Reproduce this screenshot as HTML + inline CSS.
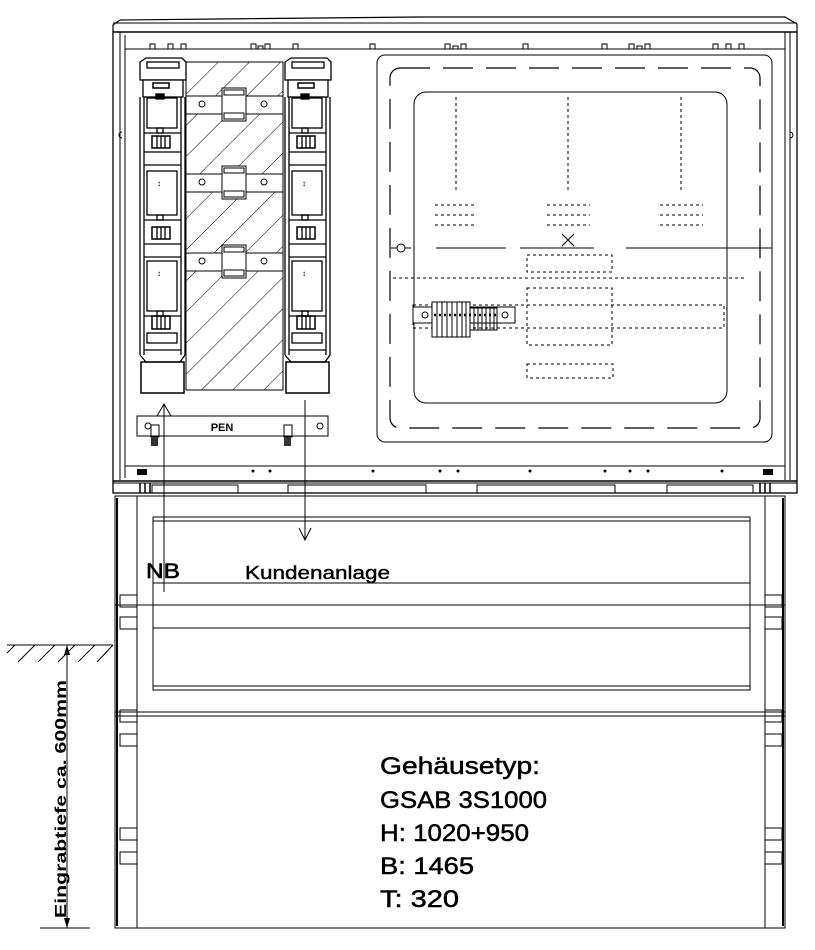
<!DOCTYPE html>
<html><head><meta charset="utf-8"><style>
html,body{margin:0;padding:0;background:#fff;}
svg{display:block;}
text{font-family:"Liberation Sans",Arial,sans-serif;fill:#000;}
</style></head><body>
<svg width="815" height="950" viewBox="0 0 815 950" xmlns="http://www.w3.org/2000/svg">
<defs>
<pattern id="hatch" width="22" height="22" patternUnits="userSpaceOnUse" patternTransform="rotate(45)">
<line x1="0" y1="0" x2="0" y2="22" stroke="#000" stroke-width="1"/>
</pattern>
<g id="fuse" fill="none" stroke="#000" stroke-width="1.3">
<path d="M140 62 L146 58 L182 58 L186 62 L186 80 L140 80 Z" fill="#fff"/>
<rect x="147" y="62" width="32" height="6"/>
<rect x="143" y="80" width="40" height="17" fill="#fff"/>
<rect x="153" y="83" width="16" height="5" stroke-width="1.5"/>
<line x1="140" y1="97" x2="140" y2="355"/><line x1="144" y1="97" x2="144" y2="355"/>
<line x1="181" y1="97" x2="181" y2="355"/><line x1="185" y1="97" x2="185" y2="355"/>
<rect x="147" y="98" width="30" height="30"/>
<rect x="156" y="94" width="8" height="5" fill="#000"/>
<rect x="157" y="128" width="6" height="5"/>
<line x1="144" y1="133" x2="181" y2="133"/>
<rect x="152" y="136" width="18" height="12" stroke-width="1.5"/>
<line x1="157" y1="136" x2="157" y2="148"/><line x1="161" y1="136" x2="161" y2="148"/><line x1="165" y1="136" x2="165" y2="148"/>
<line x1="144" y1="152" x2="181" y2="152"/>
<line x1="144" y1="165" x2="181" y2="165"/>
<rect x="147" y="171" width="30" height="44"/>
<text x="159" y="186" font-size="8" text-anchor="middle" stroke="none">↕</text>
<rect x="157" y="215" width="6" height="5"/>
<line x1="144" y1="220" x2="181" y2="220"/>
<rect x="152" y="227" width="18" height="12" stroke-width="1.5"/>
<line x1="157" y1="227" x2="157" y2="239"/><line x1="161" y1="227" x2="161" y2="239"/><line x1="165" y1="227" x2="165" y2="239"/>
<line x1="144" y1="244" x2="181" y2="244"/>
<line x1="144" y1="257" x2="181" y2="257"/>
<rect x="147" y="261" width="30" height="50"/>
<text x="159" y="276" font-size="8" text-anchor="middle" stroke="none">↕</text>
<rect x="157" y="311" width="6" height="5"/>
<line x1="144" y1="316" x2="181" y2="316"/>
<rect x="152" y="316" width="18" height="13" stroke-width="1.5"/>
<line x1="157" y1="316" x2="157" y2="329"/><line x1="161" y1="316" x2="161" y2="329"/><line x1="165" y1="316" x2="165" y2="329"/>
<rect x="147" y="333" width="30" height="10"/>
<line x1="144" y1="350" x2="181" y2="350"/>
<path d="M140 355 L146 362 L180 362 L185 355"/>
<rect x="141" y="362" width="43" height="31" stroke-width="1.5"/>
</g>
</defs>

<g fill="none" stroke="#000" stroke-width="1">
<path d="M113 25 L120 20 L420 17 L785 17 L797 24 L797 32 L113 32 Z" stroke-width="1.2"/>
<line x1="113" y1="23" x2="797" y2="23"/>
<rect x="113" y="32" width="684" height="461" stroke-width="1.3"/>
<line x1="120" y1="32" x2="120" y2="480"/><line x1="125" y1="35" x2="125" y2="478"/>
<line x1="785" y1="32" x2="785" y2="480"/><line x1="790" y1="32" x2="790" y2="480"/>
<line x1="125" y1="49" x2="785" y2="49"/>
<path d="M150 49 v-5 h5 v5 M168 49 v-5 h5 v5 M181 49 v-5 h5 v5 M251 49 v-5 h5 v5 M258 49 v-3 h5 v3 M265 49 v-5 h5 v5 M293 49 v-5 h5 v5 M370 49 v-5 h5 v5 M445 49 v-5 h5 v5 M453 49 v-3 h5 v3 M461 49 v-5 h5 v5 M523 49 v-5 h5 v5 M602 49 v-5 h5 v5 M629 49 v-5 h5 v5 M637 49 v-3 h5 v3 M645 49 v-5 h5 v5 M713 49 v-5 h5 v5 M726 49 v-5 h5 v5 M739 49 v-5 h5 v5"/>
<path d="M122 132 a3 3 0 0 0 0 6"/><path d="M790 132 a3 3 0 0 1 0 6"/>
<line x1="125" y1="466" x2="785" y2="466"/>
<line x1="113" y1="481" x2="797" y2="481" stroke-width="1.5"/>
<line x1="113" y1="483" x2="797" y2="483"/>
<line x1="130" y1="493" x2="780" y2="493"/>
<path d="M140 483 v10 M145 483 v10 M150 483 v10 M760 483 v10 M765 483 v10 M770 483 v10" stroke-width="1.5"/>
<path d="M152 493 v-8 h86 v8 M288 493 v-8 h138 v8 M477 493 v-8 h138 v8 M667 493 v-8 h86 v8"/>
</g>
<g fill="#000">
<rect x="137" y="469" width="10" height="6"/><rect x="763" y="469" width="10" height="6"/>
<circle cx="253" cy="471" r="1.5"/><circle cx="270" cy="471" r="1.5"/><circle cx="373" cy="471" r="1.5"/>
<circle cx="440" cy="471" r="1.5"/><circle cx="458" cy="471" r="1.5"/><circle cx="530" cy="471" r="1.5"/>
<circle cx="605" cy="471" r="1.5"/><circle cx="630" cy="471" r="1.5"/><circle cx="648" cy="471" r="1.5"/><circle cx="722" cy="471" r="1.5"/>
</g>

<rect x="186" y="62" width="97" height="328" fill="url(#hatch)" stroke="#000" stroke-width="1"/>
<g fill="#fff" stroke="#000" stroke-width="1">
<rect x="186" y="96" width="97" height="18"/>
<rect x="186" y="174" width="97" height="18"/>
<rect x="186" y="253" width="97" height="18"/>
<circle cx="202" cy="104" r="3"/><circle cx="264" cy="104" r="3"/>
<circle cx="202" cy="182" r="3"/><circle cx="264" cy="182" r="3"/>
<circle cx="202" cy="261" r="3"/><circle cx="264" cy="261" r="3"/>
<rect x="222" y="88" width="24" height="33"/><rect x="222" y="166" width="24" height="33"/><rect x="222" y="245" width="24" height="33"/>
<rect x="224" y="90" width="20" height="5"/><rect x="224" y="168" width="20" height="5"/><rect x="224" y="247" width="20" height="5"/>
<rect x="224" y="113" width="20" height="6"/><rect x="224" y="191" width="20" height="6"/><rect x="224" y="270" width="20" height="6"/>
</g>
<use href="#fuse"/>
<use href="#fuse" transform="translate(145,0)"/>

<g fill="none" stroke="#000" stroke-width="1">
<rect x="137" y="416" width="191" height="20"/>
<circle cx="148" cy="426" r="3"/><circle cx="320" cy="426" r="3"/>
<rect x="151" y="425" width="8" height="12"/><rect x="284" y="425" width="8" height="12"/>
</g>
<rect x="151" y="437" width="7" height="9" fill="#333"/><rect x="284" y="437" width="7" height="9" fill="#333"/>
<text x="222" y="431" font-size="11" font-weight="bold" text-anchor="middle">PEN</text>

<g stroke="#000" stroke-width="1" fill="none">
<line x1="164" y1="404" x2="164" y2="592"/>
<path d="M157 416 L164 404 L171 416"/>
<line x1="305" y1="400" x2="305" y2="540"/>
<path d="M299 528 L305 540 L311 528"/>
</g>

<g fill="none" stroke="#000" stroke-width="1">
<rect x="377" y="55" width="395" height="387" rx="8"/>
<rect x="390" y="68" width="370" height="360" rx="10" stroke-dasharray="30,13" stroke-width="1.2"/>
<rect x="414" y="92" width="313" height="311" rx="12"/>
<g stroke-dasharray="3,3">
<line x1="456" y1="97" x2="456" y2="192"/><line x1="568" y1="97" x2="568" y2="192"/><line x1="681" y1="97" x2="681" y2="192"/>
<line x1="435" y1="205" x2="477" y2="205"/><line x1="435" y1="215" x2="477" y2="215"/><line x1="435" y1="225" x2="477" y2="225"/>
<line x1="547" y1="205" x2="590" y2="205"/><line x1="547" y1="215" x2="590" y2="215"/><line x1="547" y1="225" x2="590" y2="225"/>
<line x1="660" y1="205" x2="703" y2="205"/><line x1="660" y1="215" x2="703" y2="215"/><line x1="660" y1="225" x2="703" y2="225"/>
<line x1="393" y1="278" x2="745" y2="278"/>
<rect x="527" y="255" width="85" height="17"/>
<rect x="527" y="288" width="85" height="57"/>
<rect x="527" y="364" width="86" height="14"/>
<rect x="413" y="305" width="311" height="23"/>
</g>
<path d="M436 248 H506 M520 248 H594 M626 248 H772"/>
<path d="M562 234 L574 246 M574 234 L562 246"/>
<circle cx="401" cy="248" r="4"/><path d="M391 248 h6 M405 248 h6"/>
<rect x="413" y="307" width="102" height="16" fill="#fff"/>
<circle cx="425" cy="315" r="3"/><circle cx="505" cy="315" r="3"/>
<rect x="432" y="302" width="38" height="35" fill="#fff"/>
<path d="M437 302 v35 M442 302 v35 M447 302 v35 M452 302 v35 M457 302 v35 M462 302 v35 M466 302 v35"/>
<rect x="470" y="308" width="27" height="22"/>
<path d="M474 308 v22 M478 308 v22 M482 308 v22 M486 308 v22 M490 308 v22 M494 308 v22"/>
<line x1="434" y1="315" x2="497" y2="315" stroke-width="2.5" stroke-dasharray="2,3"/>
</g>

<g fill="none" stroke="#000" stroke-width="1">
<rect x="115" y="496" width="670" height="432"/>
<line x1="117" y1="498" x2="117" y2="926" stroke-width="2"/>
<line x1="783" y1="498" x2="783" y2="926" stroke-width="2"/>
<line x1="137" y1="496" x2="137" y2="928"/>
<line x1="765" y1="496" x2="765" y2="928"/>
<rect x="153" y="517" width="597" height="173"/>
<line x1="153" y1="521" x2="750" y2="521"/>
<line x1="153" y1="583" x2="750" y2="583"/>
<line x1="115" y1="605" x2="785" y2="605"/>
<line x1="153" y1="628" x2="750" y2="628"/>
<line x1="153" y1="686" x2="750" y2="686"/>
<line x1="115" y1="712" x2="785" y2="712"/>
<line x1="115" y1="716" x2="785" y2="716"/>
<rect x="120" y="595" width="17" height="12"/><rect x="120" y="617" width="17" height="12"/>
<rect x="120" y="710" width="17" height="12"/><rect x="120" y="734" width="17" height="12"/>
<rect x="120" y="828" width="17" height="12"/><rect x="120" y="852" width="17" height="12"/>
<rect x="765" y="595" width="17" height="12"/><rect x="765" y="617" width="17" height="12"/>
<rect x="765" y="710" width="17" height="12"/><rect x="765" y="734" width="17" height="12"/>
<rect x="765" y="828" width="17" height="12"/><rect x="765" y="852" width="17" height="12"/>
<line x1="7" y1="645" x2="113" y2="645"/>
<path d="M7 653 L15 645 M18 662 L35 645 M38 662 L55 645 M58 662 L75 645 M78 662 L95 645 M97 662 L113 645"/>
<line x1="67" y1="645" x2="67" y2="928"/>
<line x1="40" y1="928" x2="90" y2="928"/>
</g>
<path d="M64 655 L67 645 L70 655 Z M64 918 L67 928 L70 918 Z" fill="#000"/>
<text transform="translate(66,918) rotate(-90)" font-size="16" font-weight="bold" textLength="238" lengthAdjust="spacingAndGlyphs">Eingrabtiefe ca. 600mm</text>

<text x="146" y="578" font-size="21" stroke="#000" stroke-width="0.6" textLength="34" lengthAdjust="spacingAndGlyphs">NB</text>
<text x="245" y="579" font-size="18" stroke="#000" stroke-width="0.4" textLength="145" lengthAdjust="spacingAndGlyphs">Kundenanlage</text>
<g font-size="24" stroke="#000" stroke-width="0.5">
<text x="380" y="774" textLength="160" lengthAdjust="spacingAndGlyphs">Gehäusetyp:</text>
<text x="380" y="808" textLength="167" lengthAdjust="spacingAndGlyphs">GSAB 3S1000</text>
<text x="380" y="841" textLength="149" lengthAdjust="spacingAndGlyphs">H: 1020+950</text>
<text x="380" y="874" textLength="94" lengthAdjust="spacingAndGlyphs">B: 1465</text>
<text x="380" y="907" textLength="79" lengthAdjust="spacingAndGlyphs">T: 320</text>
</g>
</svg>
</body></html>
